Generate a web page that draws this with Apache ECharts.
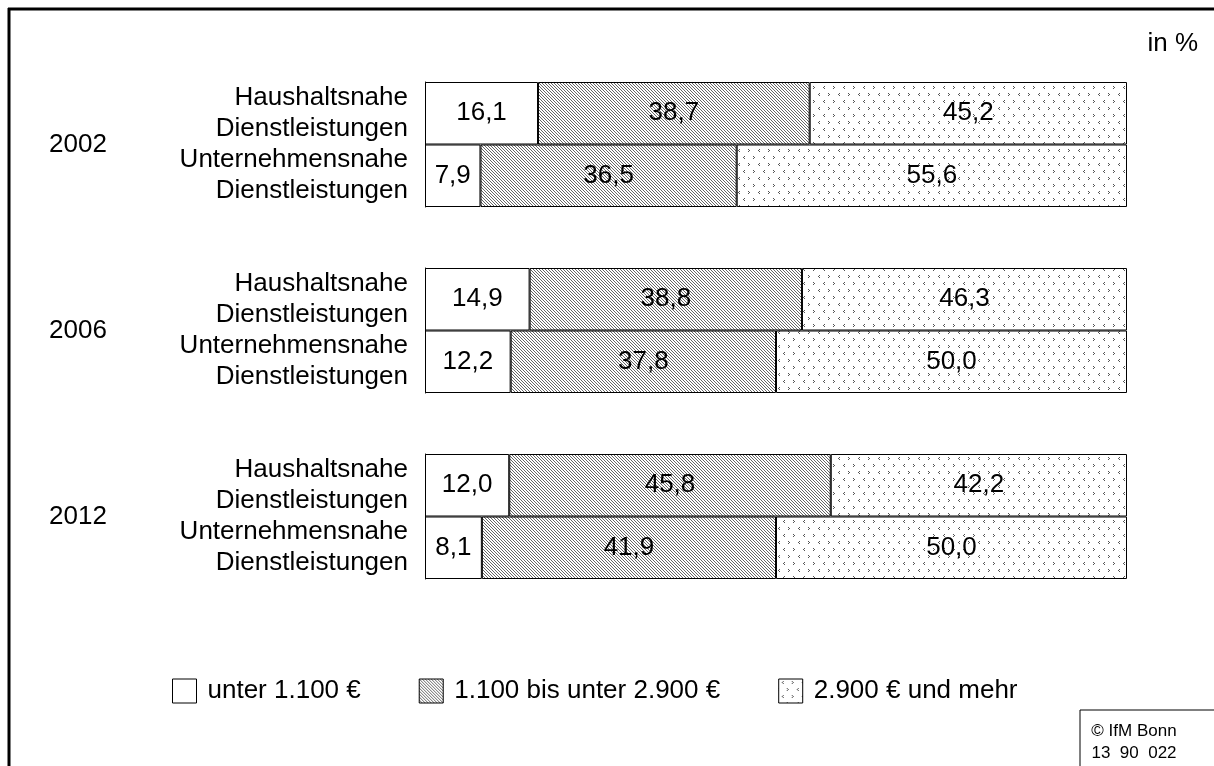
<!DOCTYPE html>
<html>
<head>
<meta charset="utf-8">
<script src="https://cdn.jsdelivr.net/npm/echarts@6/dist/echarts.min.js"></script>
<style>
  html, body { margin: 0; padding: 0; background: #fff; }
  #chart { width: 1214px; height: 766px; }
</style>
</head>
<body>
<div id="chart"></div>
<script>
// data
const years = ['2002', '2006', '2012'];
const sectors = ['Haushaltsnahe\nDienstleistungen', 'Unternehmensnahe\nDienstleistungen'];
const brackets = ['unter 1.100 €', '1.100 bis unter 2.900 €', '2.900 € und mehr'];
const under1100 = [[16.1, 7.9], [14.9, 12.2], [12.0, 8.1]];
const from1100to2900 = [[38.7, 36.5], [38.8, 37.8], [45.8, 41.9]];
const over2900 = [[45.2, 55.6], [46.3, 50.0], [42.2, 50.0]];

const FONT = 'Liberation Sans, Arial, sans-serif';
const FS = 26;

// fill patterns
function makeHatch() {
  const c = document.createElement('canvas');
  c.width = 3; c.height = 3;
  const g = c.getContext('2d');
  g.fillStyle = '#fff'; g.fillRect(0, 0, 3, 3);
  g.fillStyle = '#666';
  for (let i = 0; i < 3; i++) g.fillRect(i, i, 1, 1);
  return c;
}
function makeDots() {
  const c = document.createElement('canvas');
  c.width = 20; c.height = 14;
  const g = c.getContext('2d');
  g.fillStyle = '#fff'; g.fillRect(0, 0, 20, 14);
  g.fillStyle = '#555';
  const lt = (x, y) => { g.fillRect(x + 1, y - 1, 1, 1); g.fillRect(x, y, 1, 1); g.fillRect(x + 1, y + 1, 1, 1); };
  const gt = (x, y) => { g.fillRect(x, y - 1, 1, 1); g.fillRect(x + 1, y, 1, 1); g.fillRect(x, y + 1, 1, 1); };
  lt(3, 3); gt(13, 3); gt(8, 10); lt(18, 10);
  return c;
}
const fills = ['#fff', { image: makeHatch(), repeat: 'repeat' }, { image: makeDots(), repeat: 'repeat' }];
const values = [under1100, from1100to2900, over2900];

const grids = [], xAxes = [], yAxes = [], series = [];
const gridTops = [82, 268, 454];
years.forEach((y, gi) => {
  grids.push({ left: 425, right: 87, top: gridTops[gi], height: 125 });
  xAxes.push({ gridIndex: gi, type: 'value', min: 0, max: 100, show: false });
  yAxes.push({
    gridIndex: gi, type: 'category', inverse: true, data: sectors,
    axisLine: { show: true, lineStyle: { color: '#000', width: 1 } },
    axisTick: { show: false },
    axisLabel: { color: '#000', fontFamily: FONT, fontSize: FS, lineHeight: 31, margin: 17, align: 'right' }
  });
  brackets.forEach((b, si) => {
    series.push({
      name: b, type: 'bar', stack: 'g' + gi, xAxisIndex: gi, yAxisIndex: gi,
      barCategoryGap: 0,
      data: values[si][gi],
      itemStyle: { color: fills[si], borderColor: '#000', borderWidth: 1 },
      label: {
        show: true, position: 'inside', color: '#000', fontFamily: FONT, fontSize: FS,
        formatter: p => p.value.toFixed(1).replace('.', ',')
      },
      emphasis: { disabled: true },
      animation: false
    });
  });
});

const graphic = [
  { type: 'line', shape: { x1: 8, y1: 9, x2: 1214, y2: 9 }, style: { stroke: '#000', lineWidth: 3 } },
  { type: 'line', shape: { x1: 9, y1: 8, x2: 9, y2: 766 }, style: { stroke: '#000', lineWidth: 3 } },
  { type: 'text', right: 16, top: 31, style: { text: 'in %', font: FS + 'px ' + FONT, fill: '#000' } },
  { type: 'rect', shape: { x: 1080, y: 710, width: 140, height: 70 }, style: { fill: '#fff', stroke: '#000', lineWidth: 1 } },
  { type: 'text', x: 1134, y: 731, style: { text: '© IfM Bonn', font: '17px ' + FONT, fill: '#000', align: 'center', verticalAlign: 'middle' } },
  { type: 'text', x: 1134, y: 753, style: { text: '13  90  022', font: '17px ' + FONT, fill: '#000', align: 'center', verticalAlign: 'middle' } }
];
years.forEach((y, gi) => {
  graphic.push({
    type: 'text', x: 78, y: gridTops[gi] + 62.5,
    style: { text: y, font: FS + 'px ' + FONT, fill: '#000', align: 'center', verticalAlign: 'middle' }
  });
});

const chart = echarts.init(document.getElementById('chart'));
chart.setOption({
  animation: false,
  grid: grids, xAxis: xAxes, yAxis: yAxes, series: series,
  legend: {
    data: brackets, icon: 'rect', left: 172, top: 678, padding: 0,
    itemWidth: 24, itemHeight: 24, itemGap: 58,
    selectedMode: false,
    itemStyle: { borderColor: '#000', borderWidth: 1 },
    textStyle: { color: '#000', fontFamily: FONT, fontSize: FS, padding: [0, 0, 0, 6] }
  },
  graphic: graphic
});
</script>
</body>
</html>
